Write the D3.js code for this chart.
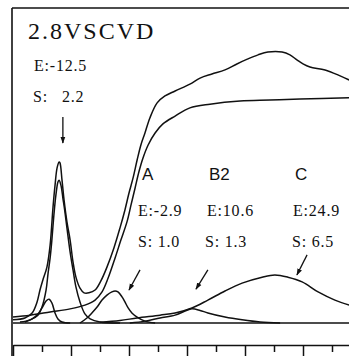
<!DOCTYPE html>
<html><head><meta charset="utf-8">
<script src="https://cdn.jsdelivr.net/npm/d3@7"></script>
<style>
html,body{margin:0;padding:0;background:#fff;}
svg{display:block;}
text{fill:#111;}
</style></head>
<body>
<svg id="chart" width="349" height="356"></svg>
<script>
// x in tick units (0..12), y in arbitrary intensity units (0..100)
const measuredX = [0,0.41,0.66,0.83,0.93,1.03,1.17,1.28,1.38,1.45,1.52,1.59,1.62,1.69,1.76,1.86,1.97,2.07,2.17,2.31,2.45,2.62,2.83,3.03,3.24,3.48,3.69,3.86,4.00,4.14,4.28,4.41,4.55,4.72,4.97,5.24,5.59,6.10,6.45,6.86,7.31,7.72,8.10,8.45,8.79,9.28,9.55,9.79,10.00,10.24,10.76,11.28,11.59];
const measuredY = [1.0,1.6,3.2,6.7,10.5,13.7,17.8,24.8,36.9,43.9,49.4,51.3,51.0,45.5,39.2,32.2,26.4,19.4,14.6,11.1,9.6,9.6,10.5,13.4,17.8,23.9,30.3,36.0,41.4,46.2,51.9,56.7,60.5,65.3,70.1,72.3,73.9,76.1,78.0,79.3,80.6,82.5,84.1,85.4,86.3,86.3,85.4,83.8,82.5,81.5,80.6,78.7,77.4];

const backgroundX = [0,0.59,1.28,1.97,2.48,2.83,3.07,3.28,3.52,3.72,3.93,4.07,4.21,4.34,4.48,4.66,4.90,5.17,5.59,6.10,6.79,7.83,8.86,9.90,11.59];
const backgroundY = [1.9,2.5,3.5,4.5,5.7,7.3,9.9,14.3,20.7,26.4,32.2,37.6,43.0,48.1,52.5,56.7,60.5,63.4,65.9,68.5,69.7,70.7,71.0,71.3,71.7];

const mainPeakX = [0.24,0.59,0.86,1.00,1.14,1.21,1.28,1.34,1.41,1.48,1.55,1.59,1.66,1.72,1.79,1.86,1.97,2.07,2.17,2.31,2.48,2.66,3.00,3.69];
const mainPeakY = [0.3,1.0,2.5,5.1,10.5,15.9,20.7,26.4,34.4,40.8,44.9,45.5,43.6,39.8,35.4,30.3,22.6,16.9,11.5,6.7,2.9,1.3,0.3,0];

const smallPeakX = [0.41,0.66,0.86,1.00,1.14,1.24,1.34,1.45,1.55,1.69,1.97];
const smallPeakY = [0.3,1.3,2.9,4.8,7.0,7.6,6.4,3.2,1.3,0.3,0];

const peakAX = [2.31,2.55,2.72,2.90,3.07,3.24,3.41,3.52,3.62,3.76,3.86,3.97,4.10,4.28,4.55,4.90];
const peakAY = [0,1.6,3.2,5.1,7.3,8.9,9.9,10.2,9.9,8.3,6.7,4.8,3.2,1.9,0.6,0];

const peakB2X = [4.03,4.55,5.07,5.59,5.93,6.17,6.45,6.72,7.31,7.90,8.52,9.21];
const peakB2Y = [0,0.6,1.6,2.5,3.8,4.5,4.0,3.2,1.9,1.0,0.3,0];

const peakCX = [3.00,3.69,4.28,5.07,5.59,6.17,6.72,7.31,7.90,8.59,9.03,9.48,9.97,10.52,11.10,11.59];
const peakCY = [0.2,0.8,1.6,2.5,3.2,4.8,7.3,10.2,12.7,14.6,15.3,14.6,13.1,9.9,7.3,5.7];

const majorTicks = [0,2,4,6,8,10,12];
const minorTicks = [1,3,5,7,9,11];

const title = "2.8VSCVD";
const peakNames = ["A","B2","C"];
const labelE = ["E:-12.5","E:-2.9","E:10.6","E:24.9"];
const labelS = ["S:","S: 1.0","S: 1.3","S: 6.5"];
const labelS0val = "2.2";
// arrows: [x, yStart, yEnd-x, yEnd] in data units
const arrows = [[1.72,65.6,1.72,57.3],[4.38,16.9,4.00,10.5],[6.72,16.9,6.31,10.8],[10.14,21.7,9.79,15.3]];

const svg = d3.select("#chart");
const x = d3.scaleLinear().domain([0,12]).range([13,361]);
const y = d3.scaleLinear().domain([0,100]).range([323,9]);

const line = d3.line().x(d=>x(d[0])).y(d=>y(d[1])).curve(d3.curveCatmullRom.alpha(0.5));
const zip = (a,b)=>a.map((v,i)=>[v,b[i]]);

// frame
svg.append("line").attr("x1",12).attr("x2",12).attr("y1",8).attr("y2",356).attr("stroke","#111").attr("stroke-width",1.6);
svg.append("line").attr("x1",12).attr("x2",349).attr("y1",8).attr("y2",8).attr("stroke","#111").attr("stroke-width",1.6);

// baseline
svg.append("line").attr("x1",x(0)).attr("x2",349).attr("y1",y(0)).attr("y2",y(0)).attr("stroke","#111").attr("stroke-width",1.6);

const series = [[measuredX,measuredY],[backgroundX,backgroundY],[mainPeakX,mainPeakY],[smallPeakX,smallPeakY],[peakAX,peakAY],[peakB2X,peakB2Y],[peakCX,peakCY]];
svg.append("g").selectAll("path").data(series).join("path")
  .attr("d",s=>line(zip(s[0],s[1])))
  .attr("fill","none").attr("stroke","#111").attr("stroke-width",1.5).attr("stroke-linejoin","round");

// bottom axis
const axMaj = svg.append("g").attr("transform","translate(0,345)")
  .call(d3.axisBottom(x).tickValues(majorTicks).tickSize(11).tickSizeOuter(0).tickFormat(""));
const axMin = svg.append("g").attr("transform","translate(0,345)")
  .call(d3.axisBottom(x).tickValues(minorTicks).tickSize(7).tickSizeOuter(0).tickFormat(""));
axMin.select(".domain").remove();
svg.selectAll(".tick line, .domain").attr("stroke","#111").attr("stroke-width",1.5);

// arrows
const defs = svg.append("defs");
defs.append("marker").attr("id","ah").attr("viewBox","0 0 10 10").attr("refX",9).attr("refY",5)
  .attr("markerWidth",7).attr("markerHeight",7).attr("orient","auto").attr("markerUnits","userSpaceOnUse")
  .append("path").attr("d","M0,1.5L10,5L0,8.5z").attr("fill","#111");
svg.append("g").selectAll("line").data(arrows).join("line")
  .attr("x1",d=>x(d[0])).attr("y1",d=>y(d[1])).attr("x2",d=>x(d[2])).attr("y2",d=>y(d[3]))
  .attr("stroke","#111").attr("stroke-width",1.3).attr("marker-end","url(#ah)");

// texts
const serif = "'Liberation Serif','Times New Roman',serif";
const sans = "'Liberation Sans',Arial,sans-serif";
svg.append("text").attr("x",28).attr("y",39).attr("font-family",serif).attr("font-size",24)
  .attr("letter-spacing",2).text(title);

const ePos = [[34,71],[138,216],[207,216],[293,216]];
const sPos = [[33,102],[138,247],[205,247],[292,247]];
labelE.forEach((t,i)=>svg.append("text").attr("x",ePos[i][0]).attr("y",ePos[i][1])
  .attr("font-family",serif).attr("font-size",16).attr("letter-spacing",0.8).text(t));
labelS.forEach((t,i)=>svg.append("text").attr("x",sPos[i][0]).attr("y",sPos[i][1])
  .attr("font-family",serif).attr("font-size",16).attr("letter-spacing",0.8).style("white-space","pre").text(t));
svg.append("text").attr("x",62).attr("y",102).attr("font-family",serif).attr("font-size",16).attr("letter-spacing",0.8).text(labelS0val);

const nPos = [[142,180],[209,180],[295,180]];
peakNames.forEach((t,i)=>svg.append("text").attr("x",nPos[i][0]).attr("y",nPos[i][1])
  .attr("font-family",sans).attr("font-size",17).text(t));
</script>
</body></html>
